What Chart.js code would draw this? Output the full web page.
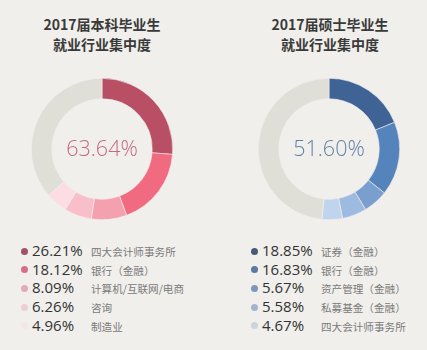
<!DOCTYPE html>
<html><head><meta charset="utf-8">
<script src="https://cdn.jsdelivr.net/npm/chart.js@4/dist/chart.umd.min.js"></script>
<style>
html,body{margin:0;padding:0;background:#f0efeb;width:427px;height:350px;overflow:hidden;font-family:"Open Sans","Noto Sans CJK SC",sans-serif;}
.title{position:absolute;width:200px;text-align:center;font-family:"Noto Sans CJK SC",sans-serif;font-weight:bold;font-size:14px;line-height:20px;color:#3a3a3a;}
.cv{position:absolute;width:142px;height:142px;}
.center{position:absolute;width:142px;text-align:center;font-size:21.5px;font-weight:300;line-height:30px;}
.row{position:absolute;white-space:nowrap;height:19px;}
.dot{position:absolute;width:7px;height:7px;border-radius:50%;top:6.5px;}
.pct{position:absolute;font-size:15px;color:#333;top:0;line-height:19px;}
.lab{position:absolute;font-family:"Noto Sans CJK SC",sans-serif;font-size:10.6px;color:#7a7a7a;top:1px;line-height:19px;}
</style></head>
<body>
<div class="title" style="left:2px;top:14px">2017届本科毕业生<br>就业行业集中度</div>
<div class="title" style="left:230px;top:14px">2017届硕士毕业生<br>就业行业集中度</div>
<div class="cv" style="left:31px;top:78px"><canvas id="c1" width="142" height="142"></canvas></div>
<div class="cv" style="left:258px;top:78px"><canvas id="c2" width="142" height="142"></canvas></div>
<div class="center" id="t1" style="left:31px;top:133px;color:#c46a80"></div>
<div class="center" id="t2" style="left:258px;top:133px;color:#6482a8"></div>
<div id="leg1"></div>
<div id="leg2"></div>
<script>
const ugLabels = ["四大会计师事务所","银行（金融）","计算机/互联网/电商","咨询","制造业"];
const ugValues = [26.21, 18.12, 8.09, 6.26, 4.96];
const ugTotal = 63.64;
const mLabels = ["证券（金融）","银行（金融）","资产管理（金融）","私募基金（金融）","四大会计师事务所"];
const mValues = [18.85, 16.83, 5.67, 5.58, 4.67];
const mTotal = 51.60;

const ugSlice = ["#b94f64","#f06a80","#f5a0ae","#f8bfca","#fbdde3"];
const ugDot = ["#a35068","#d66f86","#e5a9b8","#efcdd5","#f6e5e8"];
const mSlice = ["#3f6394","#5584bd","#7a9fcf","#9dbae0","#c1d4ed"];
const mDot = ["#465a78","#5a7aa0","#7b97bc","#a3b5cc","#cbd3df"];
const restColor = "#dfdfd8";

function makeChart(id, vals, total, colors){
  const rest = +(100 - total).toFixed(2);
  new Chart(document.getElementById(id), {
    type:'doughnut',
    data:{labels:[], datasets:[{data:[...vals, rest], backgroundColor:[...colors, restColor], borderWidth:0.6, borderColor:"#f3efec"}]},
    options:{responsive:false, animation:false, cutout:'71%', rotation:0,
      plugins:{legend:{display:false}, tooltip:{enabled:false}},
      layout:{padding:0}}
  });
}
makeChart('c1', ugValues, ugTotal, ugSlice);
makeChart('c2', mValues, mTotal, mSlice);
document.getElementById('t1').textContent = ugTotal.toFixed(2) + "%";
document.getElementById('t2').textContent = mTotal.toFixed(2) + "%";

function makeLegend(id, x0, labX, vals, labs, dots){
  const el = document.getElementById(id);
  vals.forEach((v,i)=>{
    const r = document.createElement('div');
    r.className='row';
    r.style.left = x0+'px';
    r.style.top = (241 + i*18.7)+'px';
    r.innerHTML = '<div class="dot" style="left:0;background:'+dots[i]+'"></div>'+
      '<div class="pct" style="left:11px">'+v.toFixed(2)+'%</div>'+
      '<div class="lab" style="left:'+labX+'px">'+labs[i]+'</div>';
    el.appendChild(r);
  });
}
makeLegend('leg1', 21, 70, ugValues, ugLabels, ugDot);
makeLegend('leg2', 251, 70, mValues, mLabels, mDot);
</script>
</body></html>
